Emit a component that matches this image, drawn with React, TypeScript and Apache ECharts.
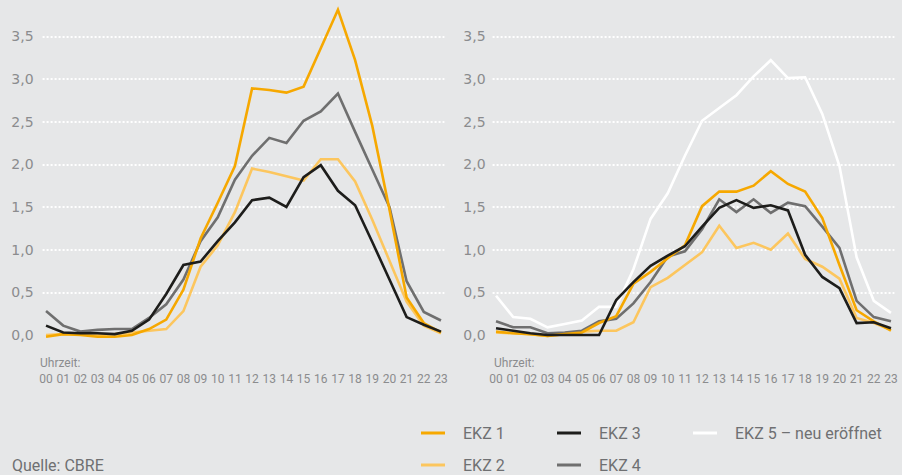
import React, { useEffect, useRef } from 'react';
import * as echarts from 'echarts';

// ---------- data ----------
const hours = ['00','01','02','03','04','05','06','07','08','09','10','11','12','13','14','15','16','17','18','19','20','21','22','23'];
const yTicks = [0, 0.5, 1, 1.5, 2, 2.5, 3, 3.5];

const seriesNames = ['EKZ 1', 'EKZ 2', 'EKZ 3', 'EKZ 4', 'EKZ 5 – neu eröffnet'];

// left panel
const leftEKZ1 = [-0.02, 0.01, 0.0, -0.02, -0.02, 0.0, 0.07, 0.18, 0.53, 1.13, 1.55, 1.98, 2.89, 2.87, 2.84, 2.91, 3.36, 3.81, 3.22, 2.45, 1.47, 0.44, 0.14, 0.03];
const leftEKZ2 = [0.0, 0.01, 0.01, 0.0, 0.01, 0.03, 0.05, 0.07, 0.28, 0.80, 1.05, 1.44, 1.95, 1.91, 1.86, 1.81, 2.06, 2.06, 1.80, 1.35, 0.87, 0.39, 0.11, 0.02];
const leftEKZ3 = [0.11, 0.03, 0.02, 0.02, 0.01, 0.05, 0.18, 0.48, 0.82, 0.86, 1.10, 1.32, 1.58, 1.61, 1.50, 1.85, 1.99, 1.69, 1.52, 1.09, 0.65, 0.21, 0.12, 0.04];
const leftEKZ4 = [0.28, 0.11, 0.04, 0.06, 0.07, 0.07, 0.20, 0.36, 0.65, 1.10, 1.38, 1.82, 2.10, 2.31, 2.25, 2.51, 2.62, 2.83, 2.38, 1.94, 1.50, 0.63, 0.27, 0.17];

// right panel
const rightEKZ1 = [0.04, 0.02, 0.01, -0.01, 0.01, 0.03, 0.14, 0.22, 0.60, 0.74, 0.90, 1.05, 1.51, 1.68, 1.68, 1.75, 1.92, 1.77, 1.68, 1.37, 0.82, 0.29, 0.16, 0.05];
const rightEKZ2 = [0.03, 0.02, 0.01, -0.01, 0.01, 0.04, 0.05, 0.05, 0.15, 0.56, 0.67, 0.82, 0.97, 1.28, 1.02, 1.08, 1.00, 1.19, 0.89, 0.80, 0.66, 0.20, 0.14, 0.06];
const rightEKZ3 = [0.08, 0.05, 0.02, 0.0, 0.0, 0.0, 0.0, 0.41, 0.62, 0.81, 0.93, 1.04, 1.27, 1.49, 1.58, 1.49, 1.52, 1.46, 0.94, 0.68, 0.55, 0.14, 0.15, 0.08];
const rightEKZ4 = [0.16, 0.09, 0.09, 0.02, 0.03, 0.05, 0.16, 0.19, 0.37, 0.62, 0.92, 0.98, 1.24, 1.59, 1.44, 1.59, 1.43, 1.55, 1.51, 1.27, 1.02, 0.40, 0.21, 0.16];
const rightEKZ5 = [0.46, 0.21, 0.19, 0.09, 0.13, 0.17, 0.33, 0.33, 0.77, 1.36, 1.66, 2.10, 2.51, 2.66, 2.81, 3.03, 3.22, 3.01, 3.02, 2.59, 1.98, 0.91, 0.40, 0.26];

const xTitle = 'Uhrzeit:';
const sourceText = 'Quelle: CBRE';

// ---------- styles ----------
const BG = '#e6e7e8';
const COLORS: Record<string, string> = {
  'EKZ 1': '#f6a800',
  'EKZ 2': '#fcc65e',
  'EKZ 3': '#1d1d1b',
  'EKZ 4': '#6f6f6f',
  'EKZ 5 – neu eröffnet': '#ffffff',
};
const AXIS_TEXT = '#8b8c8e';
const LEGEND_TEXT = '#6f7072';
const SANS = "Roboto, 'Open Sans', sans-serif";
const NUM_FONT = "'DejaVu Sans', sans-serif";

const hourIdx = hours.map((_, i) => i);

function mkSeries(name: string, values: number[], gridIndex: number, z: number) {
  return {
    type: 'line',
    name,
    xAxisIndex: gridIndex,
    yAxisIndex: gridIndex,
    data: hourIdx.map((h) => [h, values[h]]),
    showSymbol: false,
    symbol: 'none',
    clip: false,
    z,
    lineStyle: { color: COLORS[name], width: 2.6, join: 'miter' },
    itemStyle: { color: COLORS[name] },
    emphasis: { disabled: true },
  };
}

function buildOption() {
  const gridTop = 36.3;
  const gridH = 298.7;
  const gridW = 401.8;
  const lefts = [42.6, 492.6];
  const legendCommon = {
    orient: 'vertical',
    top: 423,
    padding: 0,
    icon: 'rect',
    itemWidth: 24,
    itemHeight: 3,
    itemGap: 12,
    selectedMode: false,
    textStyle: {
      color: LEGEND_TEXT,
      fontSize: 16,
      fontFamily: SANS,
      lineHeight: 20,
      padding: [0, 0, 0, 13],
    },
  };
  return {
    animation: false,
    backgroundColor: BG,
    grid: lefts.map((l) => ({ left: l, top: gridTop, width: gridW, height: gridH })),
    xAxis: [0, 1].map((i) => ({
      type: 'value',
      gridIndex: i,
      min: -0.2,
      max: 23.2,
      axisLine: { show: false },
      axisTick: { show: false },
      splitLine: { show: false },
      axisLabel: {
        customValues: hourIdx,
        formatter: (v: number) => hours[Math.round(v)],
        color: AXIS_TEXT,
        fontSize: 12,
        fontFamily: SANS,
        margin: 38,
      },
    })),
    yAxis: [0, 1].map((i) => ({
      type: 'value',
      gridIndex: i,
      min: yTicks[0],
      max: yTicks[yTicks.length - 1],
      interval: 0.5,
      axisLine: { show: false },
      axisTick: { show: false },
      splitLine: {
        show: true,
        showMinLine: false,
        lineStyle: { color: '#ffffff', width: 2, type: [2, 2] },
      },
      axisLabel: {
        formatter: (v: number) => v.toFixed(1).replace('.', ','),
        color: AXIS_TEXT,
        fontSize: 14,
        fontFamily: NUM_FONT,
        margin: i === 0 ? 9 : 7,
        padding: [0, 0, 5, 0],
      },
    })),
    legend: [
      { ...legendCommon, left: 421, data: ['EKZ 1', 'EKZ 2'] },
      { ...legendCommon, left: 557, data: ['EKZ 3', 'EKZ 4'] },
      { ...legendCommon, left: 693, data: ['EKZ 5 – neu eröffnet'] },
    ],
    graphic: [
      { type: 'text', x: 40, y: 363, style: { text: xTitle, fill: AXIS_TEXT, fontSize: 12, fontFamily: SANS, verticalAlign: 'middle' } },
      { type: 'text', x: 494, y: 363, style: { text: xTitle, fill: AXIS_TEXT, fontSize: 12, fontFamily: SANS, verticalAlign: 'middle' } },
      { type: 'text', x: 12, y: 465, style: { text: sourceText, fill: LEGEND_TEXT, fontSize: 16, fontFamily: SANS, verticalAlign: 'middle' } },
    ],
    series: [
      mkSeries(seriesNames[1], leftEKZ2, 0, 2),
      mkSeries(seriesNames[3], leftEKZ4, 0, 3),
      mkSeries(seriesNames[0], leftEKZ1, 0, 4),
      mkSeries(seriesNames[2], leftEKZ3, 0, 5),
      mkSeries(seriesNames[4], rightEKZ5, 1, 1),
      mkSeries(seriesNames[1], rightEKZ2, 1, 2),
      mkSeries(seriesNames[3], rightEKZ4, 1, 3),
      mkSeries(seriesNames[0], rightEKZ1, 1, 4),
      mkSeries(seriesNames[2], rightEKZ3, 1, 5),
    ],
  };
}

export default function App() {
  const ref = useRef<HTMLDivElement>(null);
  useEffect(() => {
    document.body.style.margin = '0';
    const chart = echarts.init(ref.current as HTMLDivElement, null, { renderer: 'svg' });
    chart.setOption(buildOption() as any);
    return () => chart.dispose();
  }, []);
  return <div ref={ref} style={{ width: 902, height: 475, position: 'absolute', left: 0, top: 0 }} />;
}
